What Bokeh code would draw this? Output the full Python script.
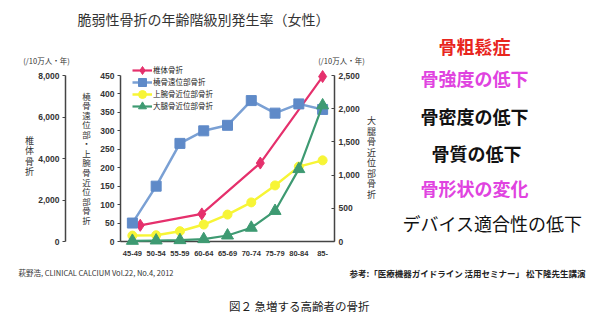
from bokeh.plotting import figure
from bokeh.models import (Range1d, LinearAxis, Label, Legend, LegendItem,
                          NumeralTickFormatter, SingleIntervalTicker, FixedTicker)
from bokeh.embed import file_html
from bokeh.resources import INLINE

# ---------------- data ----------------
ages = ["45-49", "50-54", "55-59", "60-64", "65-69", "70-74", "75-79", "80-84", "85-"]
radius = [50, 150, 266, 300, 315, 382, 348, 373, 358]          # 橈骨遠位部骨折 (left inner axis)
humerus = [16, 17, 28, 46, 73, 106, 152, 203, 220]             # 上腕骨近位部骨折 (left inner axis)
femur = [10, 15, 20, 35, 90, 207, 460, 1090, 2050]             # 大腿骨近位部骨折 (right axis)
vert_ages = ["45-49", "60-64", "70-74", "85-"]
vert_offsets = [0.33, -0.08, 0.38, 0.0]
vertebral = [780, 1330, 3780, 7950]                            # 椎体骨折 (left outer axis)

JP = "Noto Sans CJK JP"
NUM = "Liberation Sans"
PINK, BLUE, BLUE_M, YELLOW, GREEN = "#e5306c", "#7aa0d4", "#5f8ac8", "#f7f536", "#3e9a72"

# ---------------- geometry of the page ----------------
W, H = 600, 331
PL, PR, PT, PB = 120, 334, 75, 241      # plotting area inside the page
OUTER_X = 65                            # outer left axis position
n = len(ages)
cw = (PR - PL) / n

def page_range(top):
    k = top / (PB - PT)
    return Range1d(-(H - PB) * k, PB * k)

x_idx = list(range(n))
idx_of = {a: i for i, a in enumerate(ages)}
vx = [idx_of[a] + o for a, o in zip(vert_ages, vert_offsets)]

p = figure(width=W, height=H, x_range=Range1d(-0.5 - PL / cw, -0.5 + (W - PL) / cw),
           y_range=page_range(450), output_backend="svg", toolbar_location=None, min_border=0)
p.extra_y_ranges = {"vert": page_range(8000), "femur": page_range(2500)}
p.outline_line_color = None
p.xgrid.visible = False
p.ygrid.visible = False
p.background_fill_color = "white"
p.border_fill_color = "white"

def style_axis(ax):
    ax.level = "underlay"
    ax.axis_line_color = "#444"
    ax.axis_line_width = 1.5
    ax.major_tick_line_color = "#444"
    ax.minor_tick_line_color = None
    ax.major_label_text_font = NUM
    ax.major_label_text_font_style = "bold"
    ax.major_label_text_font_size = "8.5px"
    ax.major_label_text_color = "#333"

# x axis
xa = p.xaxis[0]
style_axis(xa)
xa.fixed_location = 0
xa.bounds = (-0.5, n - 0.5)
xa.ticker = FixedTicker(ticks=x_idx)
xa.major_label_overrides = {i: a for i, a in enumerate(ages)}
xa.major_tick_line_color = None
xa.major_label_text_font_size = "7.5px"
xa.major_label_standoff = 3

# inner left axis
iy = p.yaxis[0]
style_axis(iy)
iy.fixed_location = -0.5
iy.bounds = (0, 450)
iy.ticker = SingleIntervalTicker(interval=50, num_minor_ticks=0)
iy.major_tick_out = 3
iy.major_tick_in = 0
iy.major_label_standoff = 3

# outer left axis
oy = LinearAxis(y_range_name="vert", ticker=SingleIntervalTicker(interval=2000, num_minor_ticks=0),
                formatter=NumeralTickFormatter(format="0,0"))
style_axis(oy)
oy.fixed_location = (OUTER_X - PL) / cw - 0.5
oy.bounds = (0, 8000)
oy.major_tick_out = 3
oy.major_tick_in = 0
oy.major_label_standoff = 3
p.add_layout(oy, "left")

# right axis
ry = LinearAxis(y_range_name="femur", ticker=SingleIntervalTicker(interval=500, num_minor_ticks=0),
                formatter=NumeralTickFormatter(format="0,0"))
style_axis(ry)
ry.fixed_location = n - 0.5
ry.bounds = (0, 2500)
ry.major_tick_out = 0
ry.major_tick_in = 3
ry.major_label_standoff = 4
p.add_layout(ry, "right")

# ---------------- series ----------------
l1 = p.line(vx, vertebral, y_range_name="vert", line_color=PINK, line_width=2.2)
m1 = p.scatter(vx, vertebral, y_range_name="vert", marker="diamond", size=12,
               fill_color=PINK, line_color=PINK)
l2 = p.line(x_idx, radius, line_color=BLUE, line_width=2.5)
m2 = p.scatter(x_idx, radius, marker="square", size=10, fill_color=BLUE_M, line_color=BLUE_M)
l3 = p.line(x_idx, humerus, line_color=YELLOW, line_width=2.5)
m3 = p.scatter(x_idx, humerus, marker="circle", size=9, fill_color=YELLOW, line_color=YELLOW)
l4 = p.line(x_idx, femur, y_range_name="femur", line_color=GREEN, line_width=2.2)
m4 = p.scatter(x_idx, femur, y_range_name="femur", marker="triangle", size=12,
               fill_color=GREEN, line_color=GREEN)

LEG_X, LEG_Y0, LEG_DY, LEG_GH = 132, 69.5, 12, 22
entries = [("椎体骨折", [l1, m1]), ("橈骨遠位部骨折", [l2, m2]),
           ("上腕骨近位部骨折", [l3, m3]), ("大腿骨近位部骨折", [l4, m4])]
for i, (lab, rs) in enumerate(entries):
    lg = Legend(items=[LegendItem(label=lab, renderers=rs)],
                location=(LEG_X, H - (LEG_Y0 + i * LEG_DY) - LEG_GH / 2))
    lg.glyph_width = 20
    lg.glyph_height = LEG_GH
    lg.label_height = LEG_GH
    lg.padding = 0
    lg.margin = 0
    lg.label_standoff = 1
    lg.label_text_font = JP
    lg.label_text_font_size = "7.5px"
    lg.label_text_color = "#222"
    lg.border_line_color = None
    lg.background_fill_alpha = 0
    p.add_layout(lg)

# ---------------- text annotations ----------------
def put(X, Y, text, size, color="#222", bold=False, align="center", font=JP):
    p.add_layout(Label(x=X, y=H - Y, x_units="screen", y_units="screen", text=text,
                       text_align=align, text_baseline="middle", text_font=font,
                       text_font_size=f"{size}px", text_color=color,
                       text_font_style="bold" if bold else "normal"))

def put_vertical(X, Y0, text, step, size, color="#333"):
    for i, ch in enumerate(text):
        put(X, Y0 + i * step, ch, size, color=color)

put(203, 18, "脆弱性骨折の年齢階級別発生率（女性）", 14, color="#333")
put(46, 60, "(/10万人・年)", 7.5, color="#333")
put(341, 60, "(/10万人・年)", 7.5, color="#333")
put_vertical(29, 140, "椎体骨折", 10.3, 9)
put_vertical(86, 95, "橈骨遠位部・上腕骨近位部骨折", 9.56, 8.5)
put_vertical(371, 120, "大腿骨近位部骨折", 10.5, 9)

put(474, 45, "骨粗鬆症", 18, color="#e8261e", bold=True)
put(474, 77, "骨強度の低下", 18, color="#e043e0", bold=True)
put(474, 115, "骨密度の低下", 18, color="#111", bold=True)
put(476, 152, "骨質の低下", 18, color="#111", bold=True)
put(474, 187, "骨形状の変化", 18, color="#e043e0", bold=True)
put(492, 222, "デバイス適合性の低下", 18, color="#111")

put(18, 272, "萩野浩, CLINICAL CALCIUM Vol.22, No.4, 2012", 7.5, color="#333", align="left")
put(585, 272, "参考:「医療機器ガイドライン 活用セミナー」 松下隆先生講演", 8.5, color="#222",
    bold=True, align="right")
put(300, 305, "図２  急増する高齢者の骨折", 11.5, color="#222")

open("out.html", "w").write(file_html(p, INLINE))
